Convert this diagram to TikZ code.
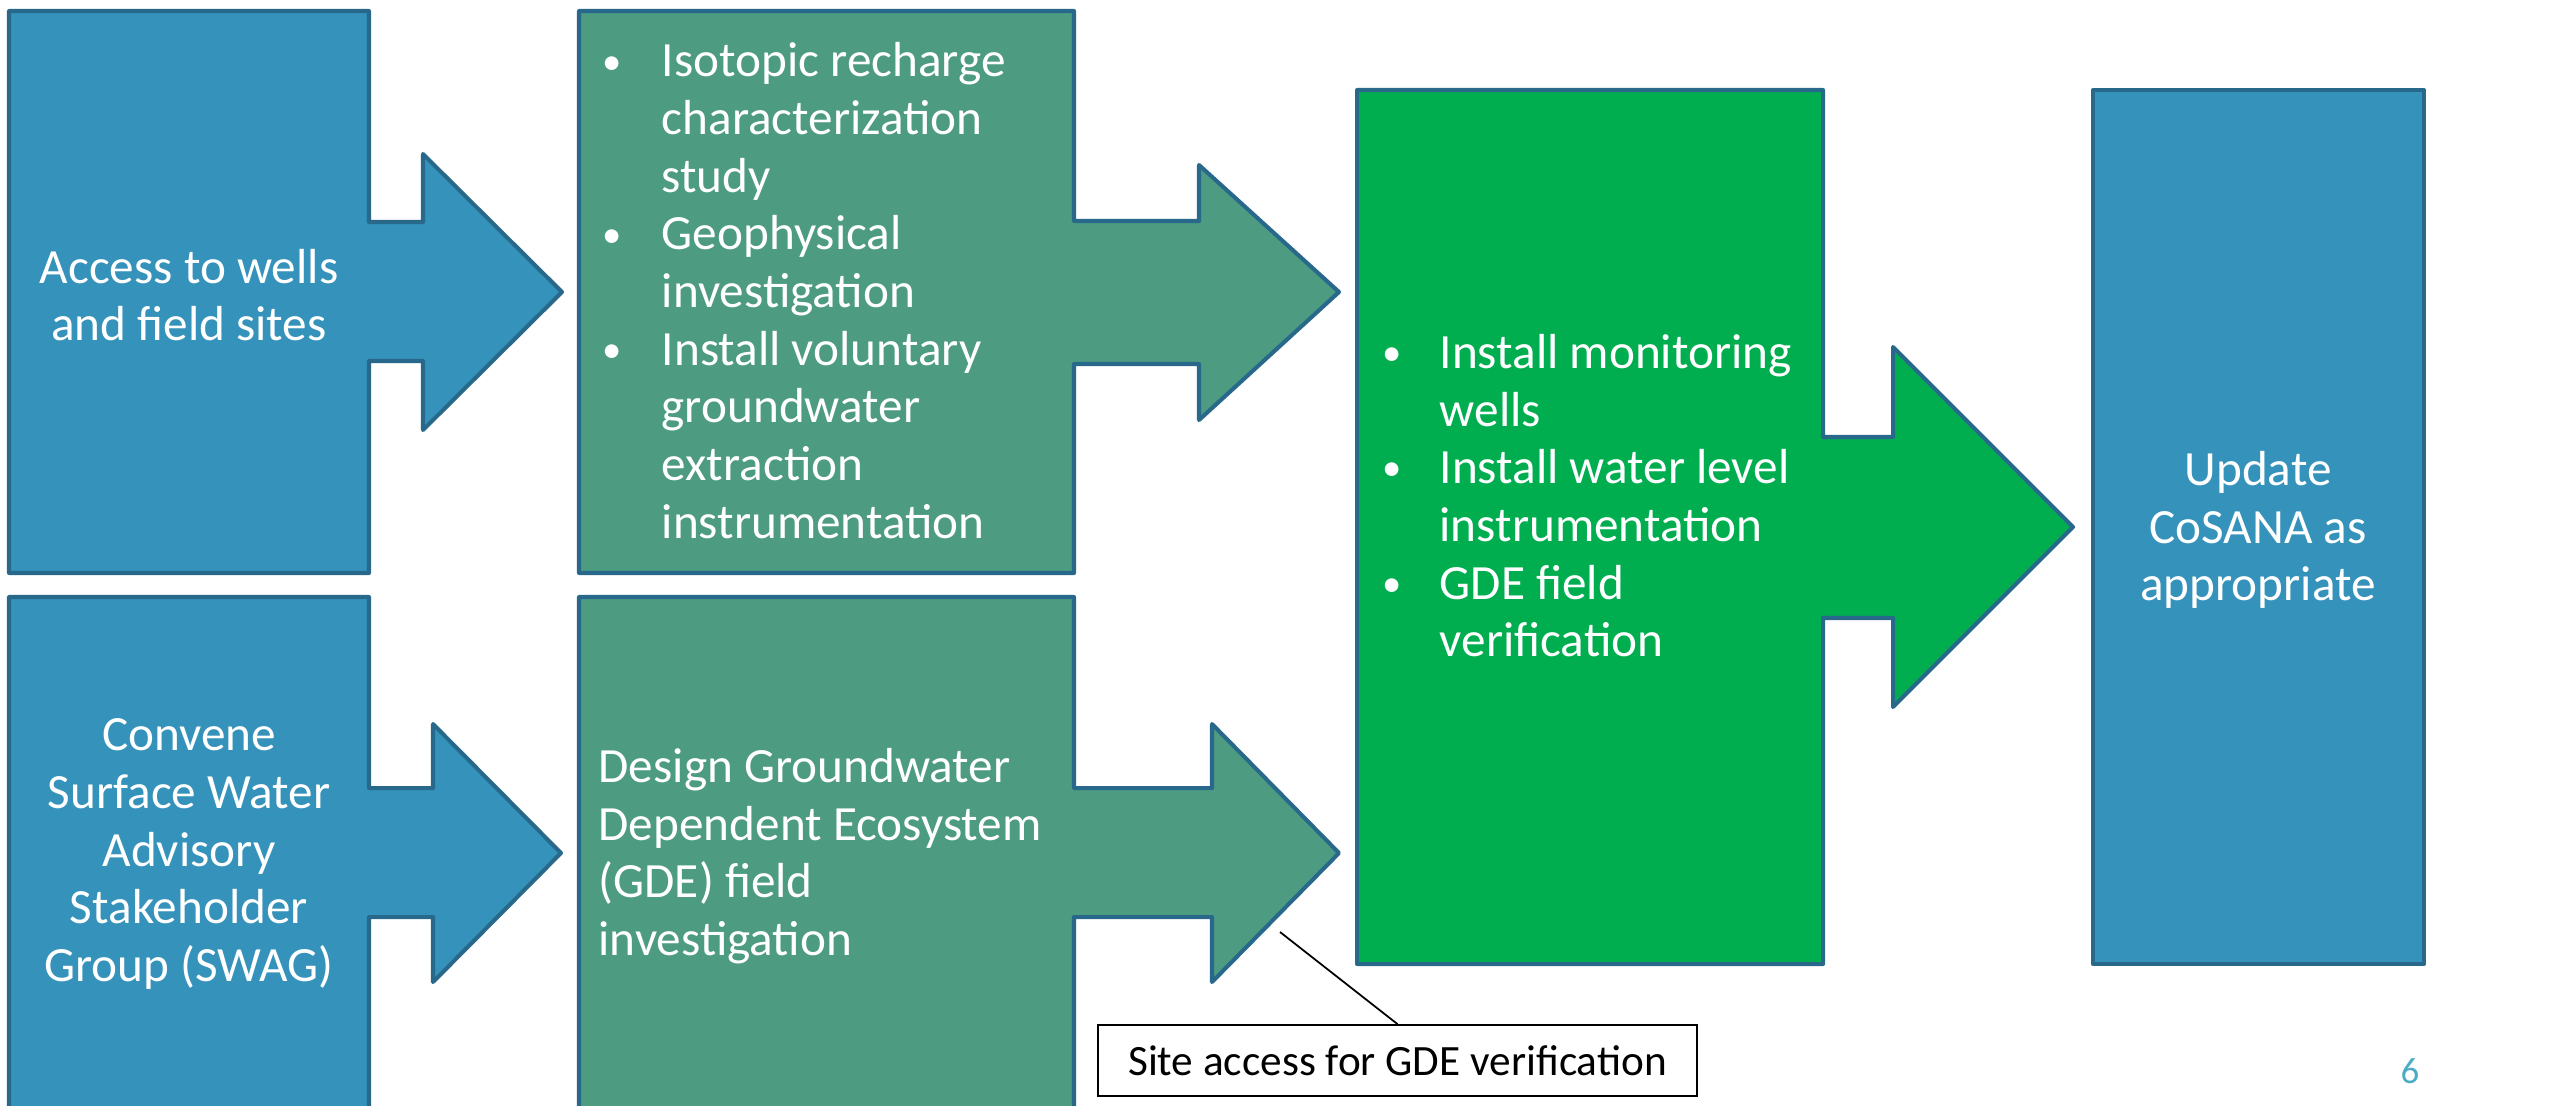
\documentclass[tikz,border=0pt]{standalone}
\usepackage{fontspec}
\setmainfont{Carlito}
\usetikzlibrary{positioning}
\definecolor{stageblue}{RGB}{53,146,186}
\definecolor{stageteal}{RGB}{77,155,129}
\definecolor{stagegreen}{RGB}{0,174,80}
\definecolor{edgeblue}{RGB}{40,104,138}
\definecolor{pagecol}{RGB}{75,172,198}
\newcommand{\dotmark}{\raisebox{0.8pt}{\fontsize{11}{11}\selectfont\textbullet}}

\begin{document}
\begin{tikzpicture}[x=0.01cm, y=-0.01cm,
    stage/.style={draw=edgeblue, line width=1.15pt, line join=round},
    stagetext/.style={text=white, font=\fontsize{14}{16.4}\selectfont, inner sep=0pt},
    note/.style={draw=black, line width=0.5pt, font=\fontsize{12.3}{14.8}\selectfont,
      minimum width=5.99cm, minimum height=0.71cm, inner sep=0pt}]
  \useasboundingbox (0,0) rectangle (2552,1105);

  \filldraw[stage, fill=stageblue] (9,11) -- (369,11) -- (369,222) -- (423,222) -- (423,154)
    -- (562,292) -- (423,430) -- (423,361) -- (369,361) -- (369,573) -- (9,573) -- cycle;
  \filldraw[stage, fill=stageteal] (579,11) -- (1074,11) -- (1074,221) -- (1199,221) -- (1199,165)
    -- (1339,292) -- (1199,420) -- (1199,364) -- (1074,364) -- (1074,573) -- (579,573) -- cycle;
  \filldraw[stage, fill=stageblue] (9,597) -- (369,597) -- (369,788) -- (433,788) -- (433,724)
    -- (561,853) -- (433,982) -- (433,917) -- (369,917) -- (369,1112) -- (9,1112) -- cycle;
  \filldraw[stage, fill=stageteal] (579,597) -- (1074,597) -- (1074,788) -- (1212,788) -- (1212,724)
    -- (1339,853) -- (1212,982) -- (1212,917) -- (1074,917) -- (1074,1112) -- (579,1112) -- cycle;
  \filldraw[stage, fill=stagegreen] (1357,90) -- (1823,90) -- (1823,437) -- (1893,437) -- (1893,347)
    -- (2073,527) -- (1893,707) -- (1893,618) -- (1823,618) -- (1823,964) -- (1357,964) -- cycle;
  \filldraw[stage, fill=stageblue] (2093,90) rectangle (2424,964);

  \node[stagetext, align=center] (access) at (189,295) {Access to wells\\and field sites};
  \node[stagetext, align=center] (swag) at (189,854)
    {Convene\\Surface Water\\Advisory\\Stakeholder\\Group (SWAG)};
  \node[stagetext, anchor=west] (isotope) at (602,296) {\begin{tabular}{@{}p{16.8pt}@{}l@{}}
    \dotmark & Isotopic recharge\\ & characterization\\ & study\\
    \dotmark & Geophysical\\ & investigation\\
    \dotmark & Install voluntary\\ & groundwater\\ & extraction\\ & instrumentation
    \end{tabular}};
  \node[stagetext, align=left, anchor=west] (gdedesign) at (598,856)
    {Design Groundwater\\Dependent Ecosystem\\(GDE) field\\investigation};
  \node[stagetext, anchor=west] (monitor) at (1382,501) {\begin{tabular}{@{}p{16.2pt}@{}l@{}}
    \dotmark & Install monitoring\\ & wells\\
    \dotmark & Install water level\\ & instrumentation\\
    \dotmark & GDE field\\ & verification
    \end{tabular}};
  \node[stagetext, align=center] (cosana) at (2258,530) {Update\\CoSANA as\\appropriate};

  \node[note] (siteaccess) at (1397.5,1060.5) {Site access for GDE verification};
  \coordinate (gdetip) at (1280,932);
  \draw[line width=0.5pt] (gdetip) -- (siteaccess.north);

  \node[text=pagecol, font=\fontsize{10.5}{12}\selectfont] (pageno) at (2410,1071) {6};
\end{tikzpicture}
\end{document}
